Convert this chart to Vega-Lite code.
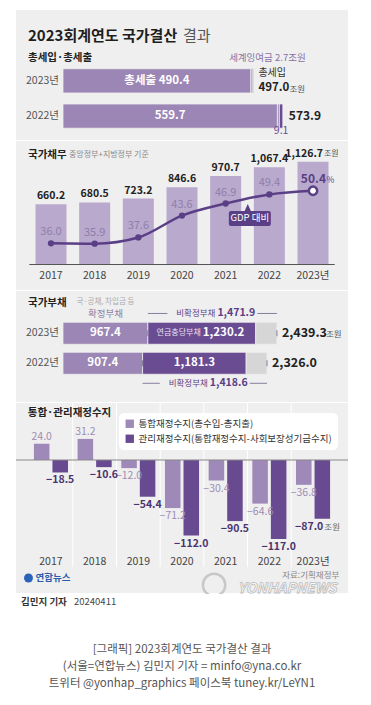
{
"$schema":"https://vega.github.io/schema/vega-lite/v6.json",
"background":"white",
"padding":{"left":15,"top":10,"right":24,"bottom":0},
"spacing":1,
"bounds":"flush",
"resolve":{"scale":{"color":"independent","x":"independent","y":"independent"}},
"config":{"view":{"fill":"#efefef","stroke":null},"font":"Noto Sans CJK KR","axis":{"disable":true}},
"vconcat":[
{
"width":332,"height":130,
"data":{"values":[
{"row":"2023년","part":"총세출","start":0,"end":490.4,"label":"총세출 490.4","total":497.0},
{"row":"2023년","part":"이월","start":490.4,"end":494.3,"label":"","total":497.0},
{"row":"2023년","part":"세계잉여금","start":494.3,"end":497.0,"label":"2.7","total":497.0},
{"row":"2022년","part":"총세출","start":0,"end":559.7,"label":"559.7","total":573.9},
{"row":"2022년","part":"이월","start":559.7,"end":564.8,"label":"","total":573.9},
{"row":"2022년","part":"세계잉여금","start":564.8,"end":573.9,"label":"9.1","total":573.9}
]},
"layer":[
{"mark":{"type":"bar","stroke":"#efefef","strokeWidth":0.8},
 "encoding":{
  "x":{"field":"start","type":"quantitative","scale":{"domain":[-122.7,744],"nice":false,"zero":false}},
  "x2":{"field":"end"},
  "y":{"field":"row","type":"nominal","scale":{"domain":["2023년","2022년"],"paddingInner":0.3125,"paddingOuter":1.1875,"align":0.833}},
  "color":{"field":"part","type":"nominal","scale":{"domain":["총세출","이월","세계잉여금"],"range":["#9b86b5","#9b86b5","#6a4c93"]},"legend":null}}},
{"transform":[{"filter":"datum.part == '총세출'"}],
 "mark":{"type":"text","align":"right","dx":-4,"fontSize":10.5,"color":"#555"},
 "encoding":{"x":{"field":"start","type":"quantitative"},"y":{"field":"row","type":"nominal"},"text":{"field":"row"}}},
{"transform":[{"filter":"datum.part == '총세출'"},{"fold":["start","end"],"as":["edge","pos"]}],
 "mark":{"type":"text","fontSize":11.5,"fontWeight":"bold","color":"white"},
 "encoding":{"x":{"aggregate":"mean","field":"pos","type":"quantitative"},"y":{"field":"row","type":"nominal"},"text":{"field":"label"}}},
{"transform":[{"filter":"datum.row == '2022년' && datum.part == '세계잉여금'"}],
 "mark":{"type":"text","align":"left","dx":6,"fontSize":12,"fontWeight":"bold","color":"#222"},
 "encoding":{"x":{"field":"end","type":"quantitative"},"y":{"field":"row","type":"nominal"},"text":{"field":"total","format":".1f"}}},
{"transform":[{"filter":"datum.row == '2023년' && datum.part == '세계잉여금'"}],
 "mark":{"type":"text","align":"left","dx":5,"dy":-7.5,"fontSize":10,"color":"#333"},
 "encoding":{"x":{"field":"end","type":"quantitative"},"y":{"field":"row","type":"nominal"},"text":{"value":"총세입"}}},
{"transform":[{"filter":"datum.row == '2023년' && datum.part == '세계잉여금'"}],
 "mark":{"type":"text","align":"left","dx":5,"dy":7.5,"fontSize":11.5,"fontWeight":"bold","color":"#222"},
 "encoding":{"x":{"field":"end","type":"quantitative"},"y":{"field":"row","type":"nominal"},"text":{"field":"total","format":".1f"}}},
{"transform":[{"filter":"datum.row == '2023년' && datum.part == '세계잉여금'"}],
 "mark":{"type":"text","align":"left","dx":36,"dy":8,"fontSize":8.5,"color":"#555"},
 "encoding":{"x":{"field":"end","type":"quantitative"},"y":{"field":"row","type":"nominal"},"text":{"value":"조원"}}},
{"transform":[{"filter":"datum.row == '2023년' && datum.part == '세계잉여금'"}],
 "mark":{"type":"text","dx":14,"dy":-22.5,"fontSize":9.5,"color":"#8672a6"},
 "encoding":{"x":{"field":"end","type":"quantitative"},"y":{"field":"row","type":"nominal"},"text":{"value":"세계잉여금 2.7조원"}}},
{"transform":[{"filter":"datum.row == '2022년' && datum.part == '세계잉여금'"},{"fold":["start","end"],"as":["edge","pos"]}],
 "mark":{"type":"text","dy":14.5,"fontSize":10.5,"color":"#6a4c93"},
 "encoding":{"x":{"aggregate":"mean","field":"pos","type":"quantitative"},"y":{"field":"row","type":"nominal"},"text":{"field":"label"}}},
{"data":{"values":[{"t":"2023회계연도 국가결산"}]},
 "mark":{"type":"text","align":"left","dx":-35,"dy":-45,"fontSize":15,"fontWeight":"bold","color":"#1e1e1e"},
 "encoding":{"x":{"datum":0,"type":"quantitative"},"y":{"datum":"2023년","type":"nominal"},"text":{"field":"t"}}},
{"data":{"values":[{"t":"결과"}]},
 "mark":{"type":"text","align":"left","dx":120,"dy":-45,"fontSize":15,"color":"#555"},
 "encoding":{"x":{"datum":0,"type":"quantitative"},"y":{"datum":"2023년","type":"nominal"},"text":{"field":"t"}}},
{"data":{"values":[{"t":"총세입·총세출"}]},
 "mark":{"type":"text","align":"left","dx":-35,"dy":-22.5,"fontSize":10.5,"fontWeight":"bold","color":"#222"},
 "encoding":{"x":{"datum":0,"type":"quantitative"},"y":{"datum":"2023년","type":"nominal"},"text":{"field":"t"}}}
]
},
{
"width":332,"height":149,
"data":{"values":[
{"year":"2017","debt":660.2,"ratio":36.0},
{"year":"2018","debt":680.5,"ratio":35.9},
{"year":"2019","debt":723.2,"ratio":37.6},
{"year":"2020","debt":846.6,"ratio":43.6},
{"year":"2021","debt":970.7,"ratio":46.9},
{"year":"2022","debt":1067.4,"ratio":49.4},
{"year":"2023","debt":1126.7,"ratio":50.4}
]},
"resolve":{"scale":{"y":"independent"}},
"layer":[
{"layer":[
 {"mark":{"type":"bar","color":"#b9a9cd"},
  "encoding":{"x":{"field":"year","type":"ordinal","scale":{"paddingInner":0.29,"paddingOuter":0.4465}},"y":{"field":"debt","type":"quantitative","scale":{"domain":[-279.6,1354.2],"nice":false,"zero":false}}}},
 {"data":{"values":[{"v":0}]},"mark":{"type":"rule","color":"#555","strokeWidth":1},
  "encoding":{"x":{"datum":"2017","type":"ordinal","bandPosition":-0.2},"x2":{"datum":"2023","bandPosition":1.2},"y":{"field":"v","type":"quantitative"}}},
 {"mark":{"type":"text","dy":11,"fontSize":10.5,"color":"#444"},
  "encoding":{"x":{"field":"year","type":"ordinal"},"y":{"datum":0,"type":"quantitative"},"text":{"condition":{"test":"datum.year == '2023'","value":"2023년"},"field":"year"}}},
 {"transform":[{"filter":"datum.year != '2023'"}],"mark":{"type":"text","dy":-8,"fontSize":10.5,"fontWeight":"bold","color":"#222"},
  "encoding":{"x":{"field":"year","type":"ordinal"},"y":{"field":"debt","type":"quantitative"},"text":{"field":"debt","format":",.1f"}}},
 {"transform":[{"filter":"datum.year == '2023'"}],"mark":{"type":"text","dy":-8,"dx":10,"align":"right","fontSize":10.5,"fontWeight":"bold","color":"#222"},
  "encoding":{"x":{"field":"year","type":"ordinal"},"y":{"field":"debt","type":"quantitative"},"text":{"field":"debt","format":",.1f"}}},
 {"transform":[{"filter":"datum.year == '2023'"}],"mark":{"type":"text","dy":-7.5,"dx":11,"align":"left","fontSize":8,"color":"#555"},
  "encoding":{"x":{"field":"year","type":"ordinal"},"y":{"field":"debt","type":"quantitative"},"text":{"value":"조원"}}},
 {"data":{"values":[{"t":"국가채무"}]},"mark":{"type":"text","align":"left","dx":-23,"fontSize":10.5,"fontWeight":"bold","color":"#222"},
  "encoding":{"x":{"datum":"2017","type":"ordinal"},"y":{"datum":1200,"type":"quantitative"},"text":{"field":"t"}}},
 {"data":{"values":[{"t":"중앙정부+지방정부 기준"}]},"mark":{"type":"text","align":"left","dx":18,"fontSize":8,"color":"#888"},
  "encoding":{"x":{"datum":"2017","type":"ordinal"},"y":{"datum":1200,"type":"quantitative"},"text":{"field":"t"}}}
]},
{"layer":[
 {"mark":{"type":"line","color":"#5b3f86","strokeWidth":2.5,"interpolate":"monotone"},
  "encoding":{"x":{"field":"year","type":"ordinal"},"y":{"field":"ratio","type":"quantitative","scale":{"domain":[23.2,64.03],"nice":false,"zero":false}}}},
 {"transform":[{"filter":"datum.year != '2023'"}],"mark":{"type":"point","filled":true,"size":40,"color":"#5b3f86","opacity":1},
  "encoding":{"x":{"field":"year","type":"ordinal"},"y":{"field":"ratio","type":"quantitative"}}},
 {"transform":[{"filter":"datum.year == '2023'"}],"mark":{"type":"point","filled":true,"fill":"white","stroke":"#5b3f86","strokeWidth":2.5,"size":70,"opacity":1},
  "encoding":{"x":{"field":"year","type":"ordinal"},"y":{"field":"ratio","type":"quantitative"}}},
 {"transform":[{"filter":"datum.year != '2023'"}],"mark":{"type":"text","dy":-11,"fontSize":11,"color":"#8e7eaa"},
  "encoding":{"x":{"field":"year","type":"ordinal"},"y":{"field":"ratio","type":"quantitative"},"text":{"field":"ratio","format":".1f"}}},
 {"transform":[{"filter":"datum.year == '2023'"}],"mark":{"type":"text","dy":-11.5,"dx":13,"align":"right","fontSize":12,"fontWeight":"bold","color":"#5b3f86"},
  "encoding":{"x":{"field":"year","type":"ordinal"},"y":{"field":"ratio","type":"quantitative"},"text":{"field":"ratio","format":".1f"}}},
 {"transform":[{"filter":"datum.year == '2023'"}],"mark":{"type":"text","dy":-11,"dx":13.5,"align":"left","fontSize":8.5,"color":"#5b3f86"},
  "encoding":{"x":{"field":"year","type":"ordinal"},"y":{"field":"ratio","type":"quantitative"},"text":{"value":"%"}}},
 {"data":{"values":[{"t":"GDP 대비"}]},"mark":{"type":"point","shape":"M-0.9,-0.357L-0.25,-0.357L-0.1,-0.69L0.05,-0.357L0.9,-0.357Q1,-0.357,1,-0.26L1,0.26Q1,0.357,0.9,0.357L-0.9,0.357Q-1,0.357,-1,0.26L-1,-0.26Q-1,-0.357,-0.9,-0.357Z","filled":true,"color":"#5b3f86","size":1764,"opacity":1,"strokeWidth":0},
  "encoding":{"x":{"datum":"2021","type":"ordinal","bandPosition":1.28},"y":{"datum":42.8,"type":"quantitative"}}},
 {"data":{"values":[{"t":"GDP 대비"}]},"mark":{"type":"text","fontSize":9.5,"color":"white"},
  "encoding":{"x":{"datum":"2021","type":"ordinal","bandPosition":1.28},"y":{"datum":42.8,"type":"quantitative"},"text":{"field":"t"}}}
]}
]
},
{
"width":332,"height":111,
"data":{"values":[
{"row":"2023년","part":"확정부채","start":0,"end":967.4,"value":967.4,"total":2439.3},
{"row":"2023년","part":"연금충당부채","start":967.4,"end":2197.6,"value":1230.2,"total":2439.3},
{"row":"2023년","part":"기타","start":2197.6,"end":2439.3,"value":241.7,"total":2439.3},
{"row":"2022년","part":"확정부채","start":0,"end":907.4,"value":907.4,"total":2326.0},
{"row":"2022년","part":"연금충당부채","start":907.4,"end":2088.7,"value":1181.3,"total":2326.0},
{"row":"2022년","part":"기타","start":2088.7,"end":2326.0,"value":237.3,"total":2326.0}
]},
"layer":[
{"mark":{"type":"bar","stroke":"#efefef","strokeWidth":0.8},
 "encoding":{"x":{"field":"start","type":"quantitative","scale":{"domain":[-535.9,3249.7],"nice":false,"zero":false}},"x2":{"field":"end"},
  "y":{"field":"row","type":"nominal","scale":{"domain":["2023년","2022년"],"paddingInner":0.267,"paddingOuter":0.983,"align":0.53}},
  "color":{"field":"part","type":"nominal","scale":{"domain":["확정부채","연금충당부채","기타"],"range":["#9b86b5","#6a4c93","#d6d6d6"]},"legend":null}}},
{"transform":[{"filter":"datum.part == '확정부채'"}],
 "mark":{"type":"text","align":"right","dx":-4,"fontSize":10.5,"color":"#555"},
 "encoding":{"x":{"field":"start","type":"quantitative"},"y":{"field":"row","type":"nominal"},"text":{"field":"row"}}},
{"transform":[{"filter":"datum.part != '기타' && !(datum.row == '2023년' && datum.part == '연금충당부채')"},{"fold":["start","end"],"as":["edge","pos"]}],
 "mark":{"type":"text","fontSize":11.5,"fontWeight":"bold","color":"white"},
 "encoding":{"x":{"aggregate":"mean","field":"pos","type":"quantitative"},"y":{"field":"row","type":"nominal"},"text":{"field":"value","format":",.1f"}}},
{"transform":[{"filter":"datum.row == '2023년' && datum.part == '연금충당부채'"},{"fold":["start","end"],"as":["edge","pos"]}],
 "mark":{"type":"text","align":"right","dx":-1,"fontSize":8,"color":"#e8e0f2"},
 "encoding":{"x":{"aggregate":"mean","field":"pos","type":"quantitative"},"y":{"field":"row","type":"nominal"},"text":{"value":"연금충당부채"}}},
{"transform":[{"filter":"datum.row == '2023년' && datum.part == '연금충당부채'"},{"fold":["start","end"],"as":["edge","pos"]}],
 "mark":{"type":"text","align":"left","dx":1,"fontSize":11.5,"fontWeight":"bold","color":"white"},
 "encoding":{"x":{"aggregate":"mean","field":"pos","type":"quantitative"},"y":{"field":"row","type":"nominal"},"text":{"field":"value","format":",.1f"}}},
{"transform":[{"filter":"datum.part == '기타'"}],
 "mark":{"type":"text","align":"left","dx":5,"fontSize":12.5,"fontWeight":"bold","color":"#222"},
 "encoding":{"x":{"field":"end","type":"quantitative"},"y":{"field":"row","type":"nominal"},"text":{"field":"total","format":",.1f"}}},
{"transform":[{"filter":"datum.part == '기타' && datum.row == '2023년'"}],
 "mark":{"type":"text","align":"left","dx":49,"dy":0.5,"fontSize":8.5,"color":"#555"},
 "encoding":{"x":{"field":"end","type":"quantitative"},"y":{"field":"row","type":"nominal"},"text":{"value":"조원"}}},
{"transform":[{"filter":"datum.row == '2023년' && datum.part == '확정부채'"},{"fold":["start","end"],"as":["edge","pos"]}],
 "mark":{"type":"text","dy":-31,"fontSize":7.5,"color":"#aaa"},
 "encoding":{"x":{"aggregate":"mean","field":"pos","type":"quantitative"},"y":{"field":"row","type":"nominal"},"text":{"value":"국·공채, 차입금 등"}}},
{"transform":[{"filter":"datum.row == '2023년' && datum.part == '확정부채'"},{"fold":["start","end"],"as":["edge","pos"]}],
 "mark":{"type":"text","dy":-19,"fontSize":9.5,"color":"#8e80a3"},
 "encoding":{"x":{"aggregate":"mean","field":"pos","type":"quantitative"},"y":{"field":"row","type":"nominal"},"text":{"value":"확정부채"}}},
{"data":{"values":[{"t":"국가부채"}]},
 "mark":{"type":"text","align":"left","dx":-35,"dy":-30,"fontSize":10.5,"fontWeight":"bold","color":"#222"},
 "encoding":{"x":{"datum":0,"type":"quantitative"},"y":{"datum":"2023년","type":"nominal"},"text":{"field":"t"}}},
{"data":{"values":[{"row":"2023년","start":967.4,"end":2439.3,"value":1471.9}]},
 "layer":[
  {"mark":{"type":"rule","color":"#7d6f93","strokeWidth":0.9},"encoding":{"x":{"field":"start","type":"quantitative"},"x2":{"field":"end"},"y":{"field":"row","type":"nominal","bandPosition":-0.4}}},
  {"mark":{"type":"tick","color":"#7d6f93","thickness":0.9,"size":6,"orient":"vertical","opacity":1},"encoding":{"x":{"field":"start","type":"quantitative"},"y":{"field":"row","type":"nominal","bandPosition":-0.273}}},
  {"mark":{"type":"tick","color":"#7d6f93","thickness":0.9,"size":6,"orient":"vertical","opacity":1},"encoding":{"x":{"field":"end","type":"quantitative"},"y":{"field":"row","type":"nominal","bandPosition":-0.273}}},
  {"transform":[{"fold":["start","end"],"as":["edge","pos"]}],"mark":{"type":"point","shape":"M-1,-0.14H1V0.14H-1Z","filled":true,"color":"#efefef","size":8100,"opacity":1,"strokeWidth":0},"encoding":{"x":{"aggregate":"mean","field":"pos","type":"quantitative"},"y":{"field":"row","type":"nominal","bandPosition":-0.4}}},
  {"transform":[{"fold":["start","end"],"as":["edge","pos"]}],"mark":{"type":"text","align":"right","dx":3,"fontSize":8.5,"color":"#5b3f86"},"encoding":{"x":{"aggregate":"mean","field":"pos","type":"quantitative"},"y":{"field":"row","type":"nominal","bandPosition":-0.4},"text":{"value":"비확정부채"}}},
  {"transform":[{"fold":["start","end"],"as":["edge","pos"]}],"mark":{"type":"text","align":"left","dx":5,"fontSize":10.5,"fontWeight":"bold","color":"#5b3f86"},"encoding":{"x":{"aggregate":"mean","field":"pos","type":"quantitative"},"y":{"field":"row","type":"nominal","bandPosition":-0.4},"text":{"field":"value","format":",.1f"}}}
 ]},
{"data":{"values":[{"row":"2022년","start":907.4,"end":2326.0,"value":1418.6}]},
 "layer":[
  {"mark":{"type":"rule","color":"#7d6f93","strokeWidth":0.9},"encoding":{"x":{"field":"start","type":"quantitative"},"x2":{"field":"end"},"y":{"field":"row","type":"nominal","bandPosition":1.41}}},
  {"mark":{"type":"tick","color":"#7d6f93","thickness":0.9,"size":6,"orient":"vertical","opacity":1},"encoding":{"x":{"field":"start","type":"quantitative"},"y":{"field":"row","type":"nominal","bandPosition":1.295}}},
  {"mark":{"type":"tick","color":"#7d6f93","thickness":0.9,"size":6,"orient":"vertical","opacity":1},"encoding":{"x":{"field":"end","type":"quantitative"},"y":{"field":"row","type":"nominal","bandPosition":1.295}}},
  {"transform":[{"fold":["start","end"],"as":["edge","pos"]}],"mark":{"type":"point","shape":"M-1,-0.14H1V0.14H-1Z","filled":true,"color":"#efefef","size":8100,"opacity":1,"strokeWidth":0},"encoding":{"x":{"aggregate":"mean","field":"pos","type":"quantitative"},"y":{"field":"row","type":"nominal","bandPosition":1.41}}},
  {"transform":[{"fold":["start","end"],"as":["edge","pos"]}],"mark":{"type":"text","align":"right","dx":3,"fontSize":8.5,"color":"#5b3f86"},"encoding":{"x":{"aggregate":"mean","field":"pos","type":"quantitative"},"y":{"field":"row","type":"nominal","bandPosition":1.41},"text":{"value":"비확정부채"}}},
  {"transform":[{"fold":["start","end"],"as":["edge","pos"]}],"mark":{"type":"text","align":"left","dx":5,"fontSize":10.5,"fontWeight":"bold","color":"#5b3f86"},"encoding":{"x":{"aggregate":"mean","field":"pos","type":"quantitative"},"y":{"field":"row","type":"nominal","bandPosition":1.41},"text":{"field":"value","format":",.1f"}}}
 ]}
]
},
{
"width":332,"height":190,
"data":{"values":[
{"year":"2017","k":"통합","type":"통합재정수지(총수입-총지출)","value":24.0},
{"year":"2017","k":"관리","type":"관리재정수지(통합재정수지-사회보장성기금수지)","value":-18.5},
{"year":"2018","k":"통합","type":"통합재정수지(총수입-총지출)","value":31.2},
{"year":"2018","k":"관리","type":"관리재정수지(통합재정수지-사회보장성기금수지)","value":-10.6},
{"year":"2019","k":"통합","type":"통합재정수지(총수입-총지출)","value":-12.0},
{"year":"2019","k":"관리","type":"관리재정수지(통합재정수지-사회보장성기금수지)","value":-54.4},
{"year":"2020","k":"통합","type":"통합재정수지(총수입-총지출)","value":-71.2},
{"year":"2020","k":"관리","type":"관리재정수지(통합재정수지-사회보장성기금수지)","value":-112.0},
{"year":"2021","k":"통합","type":"통합재정수지(총수입-총지출)","value":-30.4},
{"year":"2021","k":"관리","type":"관리재정수지(통합재정수지-사회보장성기금수지)","value":-90.5},
{"year":"2022","k":"통합","type":"통합재정수지(총수입-총지출)","value":-64.6},
{"year":"2022","k":"관리","type":"관리재정수지(통합재정수지-사회보장성기금수지)","value":-117.0},
{"year":"2023","k":"통합","type":"통합재정수지(총수입-총지출)","value":-36.8},
{"year":"2023","k":"관리","type":"관리재정수지(통합재정수지-사회보장성기금수지)","value":-87.0}
]},
"layer":[
{"transform":[{"filter":"datum.k == '통합' && datum.year != '2017'"}],
 "mark":{"type":"rule","color":"white","strokeWidth":1},
 "encoding":{"x":{"field":"year","type":"ordinal","bandPosition":-0.141},"y":{"datum":84.4,"type":"quantitative"},"y2":{"datum":-158.5}}},
{"mark":{"type":"bar"},
 "encoding":{"x":{"field":"year","type":"ordinal","scale":{"paddingInner":0.22,"paddingOuter":0.41}},
  "xOffset":{"field":"type","type":"nominal","scale":{"domain":["통합재정수지(총수입-총지출)","관리재정수지(통합재정수지-사회보장성기금수지)"],"paddingInner":0.162,"paddingOuter":0}},
  "y":{"field":"value","type":"quantitative","scale":{"domain":[-197,84.4],"nice":false,"zero":false}},
  "color":{"field":"type","type":"nominal","scale":{"domain":["통합재정수지(총수입-총지출)","관리재정수지(통합재정수지-사회보장성기금수지)"],"range":["#9e89b8","#684a90"]},
   "legend":{"title":null,"orient":"top-right","offset":10,"fillColor":"white","cornerRadius":5,"padding":6,"symbolType":"square","symbolSize":70,"symbolStrokeWidth":0,"labelFontSize":9.5,"labelFont":"Noto Sans CJK KR","labelColor":"#333","labelLimit":400,"rowPadding":4}}}},
{"data":{"values":[{"v":0}]},"mark":{"type":"rule","color":"#888","strokeWidth":1},
 "encoding":{"y":{"field":"v","type":"quantitative"}}},
{"transform":[{"filter":"datum.k == '통합' && datum.value > 0"}],
 "mark":{"type":"text","dy":-7,"fontSize":10.5,"color":"#9e8db3"},
 "encoding":{"x":{"field":"year","type":"ordinal"},"xOffset":{"field":"type","type":"nominal"},"y":{"field":"value","type":"quantitative"},"text":{"field":"value","format":".1f"}}},
{"transform":[{"filter":"datum.k == '통합' && datum.value < 0"}],
 "mark":{"type":"text","dy":8,"fontSize":10.5,"color":"#9e8db3"},
 "encoding":{"x":{"field":"year","type":"ordinal"},"xOffset":{"field":"type","type":"nominal"},"y":{"field":"value","type":"quantitative"},"text":{"field":"value","format":".1f"}}},
{"transform":[{"filter":"datum.k == '관리' && datum.year != '2023'"}],
 "mark":{"type":"text","dy":8,"fontSize":10.5,"fontWeight":"bold","color":"#4a3470"},
 "encoding":{"x":{"field":"year","type":"ordinal"},"xOffset":{"field":"type","type":"nominal"},"y":{"field":"value","type":"quantitative"},"text":{"field":"value","format":".1f"}}},
{"transform":[{"filter":"datum.k == '관리' && datum.year == '2023'"}],
 "mark":{"type":"text","dy":8,"dx":1,"align":"right","fontSize":10.5,"fontWeight":"bold","color":"#4a3470"},
 "encoding":{"x":{"field":"year","type":"ordinal"},"xOffset":{"field":"type","type":"nominal"},"y":{"field":"value","type":"quantitative"},"text":{"field":"value","format":".1f"}}},
{"transform":[{"filter":"datum.k == '관리' && datum.year == '2023'"}],
 "mark":{"type":"text","dy":8.5,"dx":2,"align":"left","fontSize":8.5,"color":"#666"},
 "encoding":{"x":{"field":"year","type":"ordinal"},"xOffset":{"field":"type","type":"nominal"},"y":{"field":"value","type":"quantitative"},"text":{"value":"조원"}}},
{"transform":[{"filter":"datum.k == '통합'"}],
 "mark":{"type":"text","fontSize":10.5,"color":"#444"},
 "encoding":{"x":{"field":"year","type":"ordinal"},"y":{"datum":-151.5,"type":"quantitative"},"text":{"condition":{"test":"datum.year == '2023'","value":"2023년"},"field":"year"}}},
{"data":{"values":[{"t":"통합·관리재정수지"}]},
 "mark":{"type":"text","align":"left","fontSize":10.5,"fontWeight":"bold","color":"#222"},
 "encoding":{"x":{"datum":"2017","type":"ordinal","bandPosition":-0.18},"y":{"datum":69.6,"type":"quantitative"},"text":{"field":"t"}}},
{"data":{"values":[{"t":"연합뉴스"}]},
 "mark":{"type":"point","shape":"circle","filled":true,"color":"#2a63b8","size":80,"opacity":1},
 "encoding":{"x":{"datum":"2017","type":"ordinal","bandPosition":-0.16},"y":{"datum":-174.8,"type":"quantitative"}}},
{"data":{"values":[{"t":"연합뉴스"}]},
 "mark":{"type":"text","align":"left","dx":7,"fontSize":9.5,"fontWeight":"bold","color":"#2a5cab"},
 "encoding":{"x":{"datum":"2017","type":"ordinal","bandPosition":-0.16},"y":{"datum":-174.8,"type":"quantitative"},"text":{"field":"t"}}},
{"data":{"values":[{"t":"YONHAPNEWS"}]},
 "mark":{"type":"point","shape":"circle","filled":false,"color":"#c8c8c8","strokeWidth":2.5,"size":500,"opacity":1},
 "encoding":{"x":{"datum":"2021","type":"ordinal","bandPosition":0.16},"y":{"datum":-185,"type":"quantitative"}}},
{"data":{"values":[{"t":"YONHAPNEWS"}]},
 "mark":{"type":"text","fontSize":14,"fontWeight":"bold","fontStyle":"italic","fill":"#f7f7f7","stroke":"#bdbdbd","strokeWidth":0.8},
 "encoding":{"x":{"datum":"2022","type":"ordinal","bandPosition":1.02},"y":{"datum":-190.5,"type":"quantitative"},"text":{"field":"t"}}},
{"data":{"values":[{"t":"자료:기획재정부"}]},
 "mark":{"type":"text","align":"right","fontSize":8.5,"color":"#888"},
 "encoding":{"x":{"datum":"2023","type":"ordinal","bandPosition":1.27},"y":{"datum":-170.4,"type":"quantitative"},"text":{"field":"t"}}}
]
},
{
"width":332,"height":111,
"view":{"fill":"white"},
"data":{"values":[
{"t":["[그래픽] 2023회계연도 국가결산 결과","(서울=연합뉴스) 김민지 기자 = minfo@yna.co.kr","트위터 @yonhap_graphics 페이스북 tuney.kr/LeYN1"],"by":"김민지 기자","date":"20240411"}
]},
"layer":[
{"mark":{"type":"text","fontSize":11.5,"color":"#555","lineHeight":17},
 "encoding":{"text":{"field":"t"}}},
{"mark":{"type":"text","align":"left","dx":-161,"dy":-47.5,"fontSize":9.5,"fontWeight":"bold","color":"#333"},
 "encoding":{"text":{"field":"by"}}},
{"mark":{"type":"text","align":"left","dx":-108,"dy":-47.5,"fontSize":9.5,"color":"#444"},
 "encoding":{"text":{"field":"date"}}}
]
}
]
}
